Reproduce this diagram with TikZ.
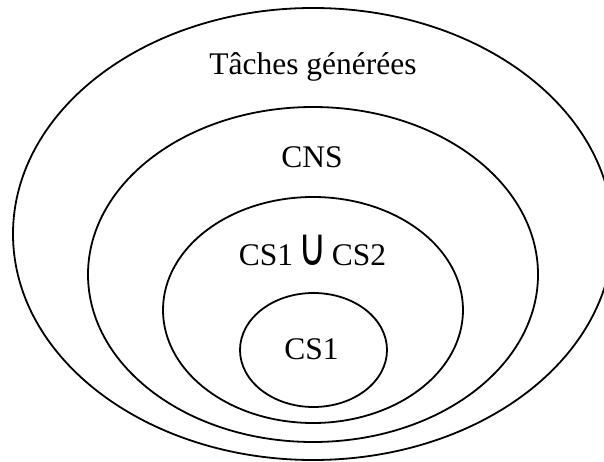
\documentclass[tikz,border=0pt]{standalone}
\usepackage{fontspec}
\setmainfont{Liberation Serif}
\newfontfamily\symfont{DejaVu Sans}
\begin{document}
\begin{tikzpicture}[x=1pt,y=-1pt,
  ring/.style={draw=black,line width=1.8pt},
  lbl/.style={inner sep=0pt,anchor=base,font=\fontsize{31.5}{36}\selectfont}]
\useasboundingbox (0,0) rectangle (604,462);
\clip (0,0) rectangle (604,462);
\fill[white] (0,0) rectangle (604,462);
\draw[ring] (313,234) ellipse [x radius=300, y radius=226];
\draw[ring] (313,274.5) ellipse [x radius=225, y radius=167.5];
\draw[ring] (313,310) ellipse [x radius=150, y radius=113];
\draw[ring] (313.5,350) ellipse [x radius=73.5, y radius=57];
\node[lbl] (t) at (313,75) {Tâches générées};
\node[lbl] (cns) at (312,168) {CNS};
\node[lbl] (u) at (312.5,265) {CS1\hspace{5pt}{\symfont\fontsize{30}{36}\selectfont\scalebox{1.3}[1.75]{∪}}\hspace{5pt}CS2};
\node[lbl] (cs1) at (311.5,359) {CS1};
\end{tikzpicture}
\end{document}
